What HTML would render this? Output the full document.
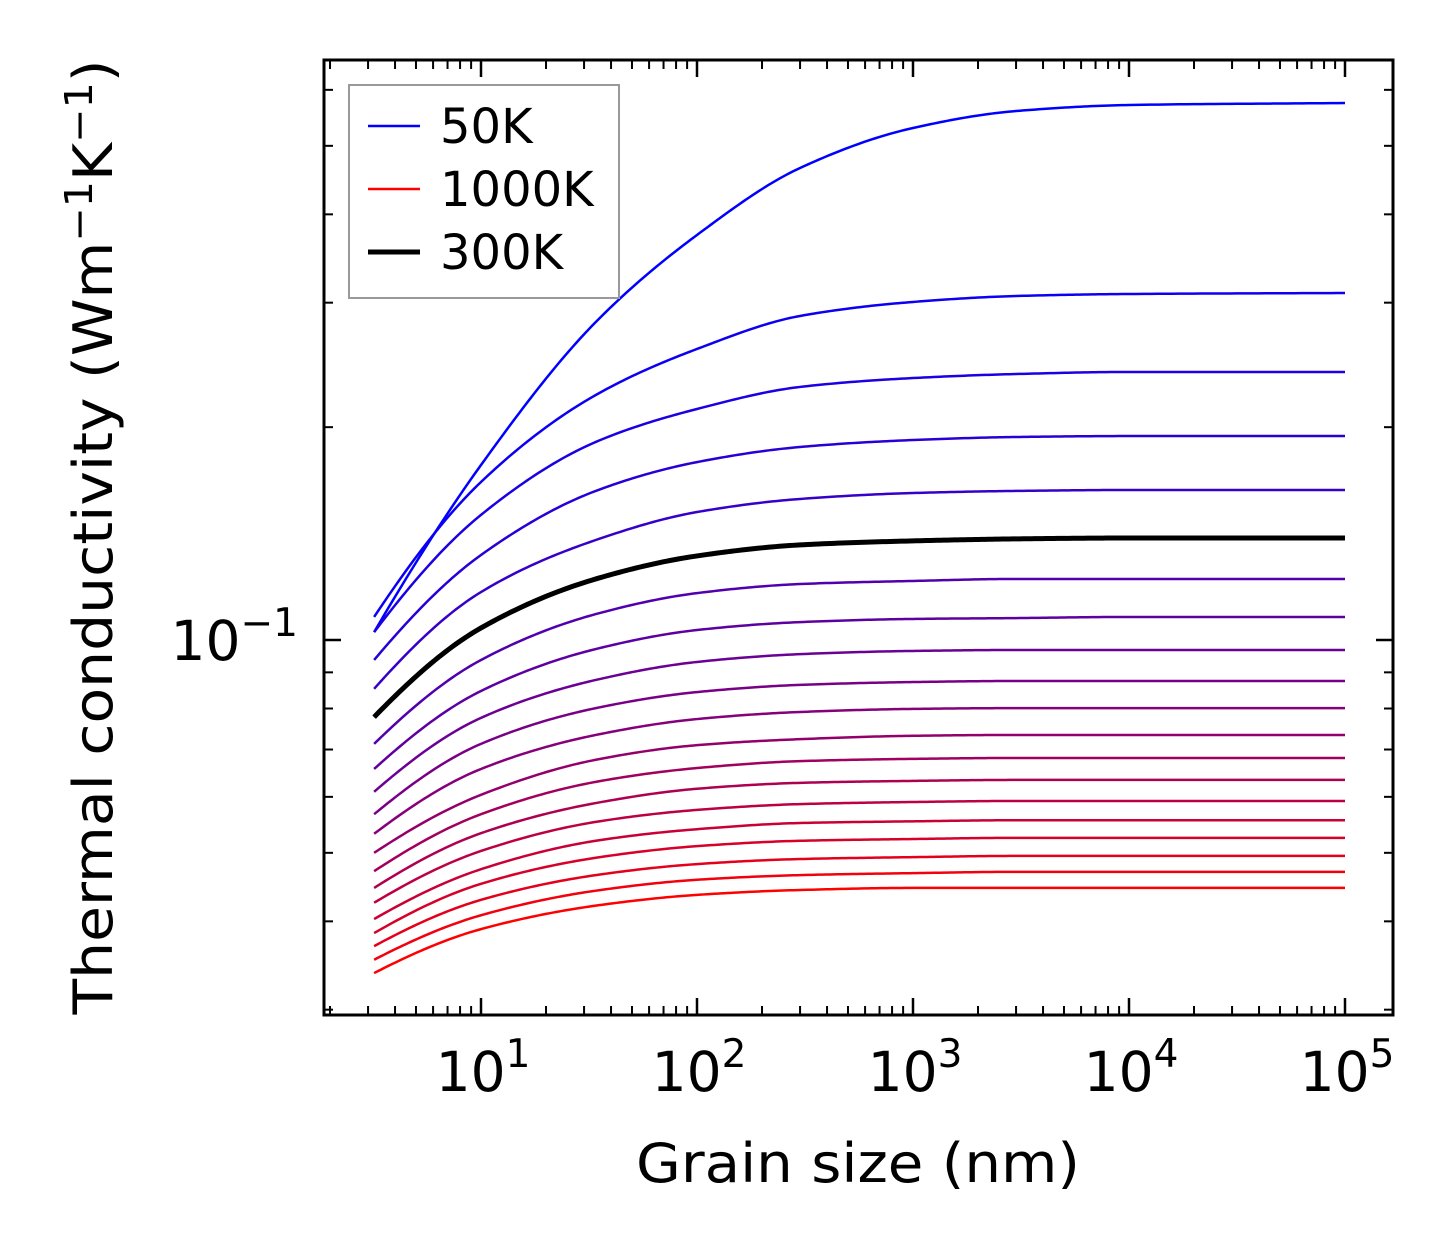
<!DOCTYPE html>
<html><head><meta charset="utf-8"><style>
html,body{margin:0;padding:0;background:#fff;}
svg{display:block;font-family:"DejaVu Sans","Liberation Sans",sans-serif;}
</style></head><body>
<svg id="chart" width="1454" height="1254" viewBox="0 0 1454 1254" xmlns="http://www.w3.org/2000/svg">
<rect width="1454" height="1254" fill="#fff"/>
<g id="curves"></g>
<g id="axes"></g>
<g id="legend">
  <rect x="349" y="85" width="270" height="213" fill="#fff" fill-opacity="0.8" stroke="#999" stroke-width="2"/>
  <line x1="368" y1="126" x2="420" y2="126" stroke="#0000ff" stroke-width="2.5"/>
  <text x="440" y="143" font-size="48">50K</text>
  <line x1="368" y1="189" x2="420" y2="189" stroke="#ff0000" stroke-width="2.5"/>
  <text x="440" y="206" font-size="48">1000K</text>
  <line x1="368" y1="252" x2="420" y2="252" stroke="#000" stroke-width="5"/>
  <text x="440" y="269" font-size="48">300K</text>
</g>
<text x="858" y="1182" font-size="54" text-anchor="middle" textLength="444" lengthAdjust="spacingAndGlyphs">Grain size (nm)</text>
<text transform="translate(112,537) rotate(-90)" font-size="54" text-anchor="middle" textLength="955" lengthAdjust="spacingAndGlyphs">Thermal conductivity (Wm<tspan dy="-20" font-size="38">−1</tspan><tspan dy="20">K</tspan><tspan dy="-20" font-size="38">−1</tspan><tspan dy="20">)</tspan></text>
</svg>
<script>
const grainSizes = [3.2, 10, 34, 100, 300, 1000, 3000, 10000, 100000];
const temperatures = [50,100,150,200,250,300,350,400,450,500,550,600,650,700,750,800,850,900,950,1000];
const k50  = [0.1026,0.1768,0.2817,0.3740,0.4652,0.5299,0.5600,0.5711,0.5748];
const k100 = [0.1078,0.1673,0.2221,0.2580,0.2873,0.3007,0.3066,0.3086,0.3096];
const k150 = [0.1026,0.1503,0.1906,0.2122,0.2280,0.2347,0.2378,0.2394,0.2394];
const k200 = [0.0937,0.1319,0.1625,0.1785,0.1875,0.1918,0.1937,0.1943,0.1943];
const k250 = [0.0853,0.1169,0.1385,0.1517,0.1583,0.1614,0.1625,0.1630,0.1630];
const k300 = [0.0778,0.1040,0.1220,0.1315,0.1363,0.1381,0.1390,0.1394,0.1394];
const k350 = [0.0713,0.0937,0.1088,0.1165,0.1200,0.1212,0.1220,0.1220,0.1220];
const k400 = [0.0657,0.0847,0.0971,0.1033,0.1060,0.1071,0.1074,0.1078,0.1078];
const k450 = [0.0610,0.0776,0.0878,0.0931,0.0955,0.0965,0.0968,0.0968,0.0968];
const k500 = [0.0567,0.0713,0.0801,0.0844,0.0864,0.0872,0.0875,0.0875,0.0875];
const k550 = [0.0532,0.0657,0.0734,0.0773,0.0791,0.0799,0.0801,0.0801,0.0801];
const k600 = [0.0500,0.0604,0.0677,0.0710,0.0724,0.0732,0.0734,0.0734,0.0734];
const k650 = [0.0471,0.0567,0.0630,0.0659,0.0674,0.0679,0.0681,0.0681,0.0681];
const k700 = [0.0446,0.0533,0.0588,0.0616,0.0628,0.0632,0.0634,0.0634,0.0634];
const k750 = [0.0425,0.0503,0.0553,0.0575,0.0586,0.0590,0.0592,0.0592,0.0592];
const k800 = [0.0403,0.0474,0.0520,0.0540,0.0551,0.0554,0.0556,0.0556,0.0556];
const k850 = [0.0385,0.0452,0.0492,0.0511,0.0520,0.0523,0.0525,0.0525,0.0525];
const k900 = [0.0369,0.0429,0.0465,0.0482,0.0490,0.0493,0.0495,0.0495,0.0495];
const k950 = [0.0353,0.0408,0.0442,0.0458,0.0465,0.0468,0.0470,0.0470,0.0470];
const k1000= [0.0338,0.0390,0.0421,0.0436,0.0443,0.0446,0.0446,0.0446,0.0446];
const seriesK = [k50,k100,k150,k200,k250,k300,k350,k400,k450,k500,k550,k600,k650,k700,k750,k800,k850,k900,k950,k1000];
const highlightT = 300;
const xMajorTicks = [1,2,3,4,5];
const yMajorTicks = [-1];
const yMinorValues = [0.03,0.04,0.05,0.06,0.07,0.08,0.09,0.2,0.3,0.4,0.5,0.6];

const NS = "http://www.w3.org/2000/svg";
const PL = 324, PR = 1393, PT = 60, PB = 1015;
const xDec = 216, x10 = 481;
const yDec = 707, y01 = 640;
function xs(v){ return x10 + (Math.log10(v) - 1) * xDec; }
function ys(v){ return y01 - (Math.log10(v) + 1) * yDec; }

function mk(tag, attrs, parent){
  const e = document.createElementNS(NS, tag);
  for (const k in attrs) e.setAttribute(k, attrs[k]);
  parent.appendChild(e);
  return e;
}
function smoothPath(pts){
  const n = pts.length, h = [], d = [], m = new Array(n);
  for (let i = 0; i < n - 1; i++){ h.push(pts[i+1][0]-pts[i][0]); d.push((pts[i+1][1]-pts[i][1])/h[i]); }
  m[n-1] = d[n-2];
  for (let i = 1; i < n - 1; i++){
    if (d[i-1]*d[i] <= 0) m[i] = 0;
    else { const w1 = 2*h[i]+h[i-1], w2 = h[i]+2*h[i-1]; m[i] = (w1+w2)/(w1/d[i-1]+w2/d[i]); }
  }
  m[0] = ((2*h[0]+h[1])*d[0] - h[0]*d[1])/(h[0]+h[1]);
  if (m[0]*d[0] <= 0) m[0] = 0; else if (Math.abs(m[0]) > 3*Math.abs(d[0])) m[0] = 3*d[0];
  let s = "M" + pts[0][0].toFixed(2) + "," + pts[0][1].toFixed(2);
  for (let i = 0; i < n - 1; i++){
    const steps = 30;
    for (let k = 1; k <= steps; k++){
      const t = k/steps, t2 = t*t, t3 = t2*t;
      const y = (2*t3-3*t2+1)*pts[i][1] + (t3-2*t2+t)*h[i]*m[i] + (-2*t3+3*t2)*pts[i+1][1] + (t3-t2)*h[i]*m[i+1];
      const x = pts[i][0] + t*h[i];
      s += " L" + x.toFixed(2) + "," + y.toFixed(2);
    }
  }
  return s;
}

const curves = document.getElementById("curves");
const n = temperatures.length;
let hiIdx = -1;
temperatures.forEach((T, i) => {
  const t = i / (n - 1);
  const col = "rgb(" + Math.round(255*t) + ",0," + Math.round(255*(1-t)) + ")";
  const pts = grainSizes.map((L, j) => [xs(L), ys(seriesK[i][j])]);
  const p = mk("path", {d: smoothPath(pts), fill: "none", stroke: col, "stroke-width": 2.5, "stroke-linejoin": "round"}, curves);
  
  
  if (T === highlightT) hiIdx = i;
});
if (hiIdx >= 0){
  const pts = grainSizes.map((L, j) => [xs(L), ys(seriesK[hiIdx][j])]);
  const p = mk("path", {d: smoothPath(pts), fill: "none", stroke: "#000", "stroke-width": 5, "stroke-linejoin": "round"}, curves);
  
  
}

const axes = document.getElementById("axes");
const frame = mk("rect", {x: PL, y: PT, width: PR-PL, height: PB-PT, fill: "none", stroke: "#000", "stroke-width": 3}, axes);



for (let dec = 0; dec <= 5; dec++){
  for (let m = 1; m <= 9; m++){
    const v = m * Math.pow(10, dec);
    const x = xs(v);
    if (x < PL + 2 || x > PR - 2) continue;
    const len = m === 1 ? 17 : 9;
    const w = m === 1 ? 2.5 : 2;
    const t1 = mk("line", {x1: x, y1: PB, x2: x, y2: PB - len, stroke: "#000", "stroke-width": w}, axes);
    
    
    const t2 = mk("line", {x1: x, y1: PT, x2: x, y2: PT + len, stroke: "#000", "stroke-width": w}, axes);
    
    
  }
}
xMajorTicks.forEach(e => {
  const x = xs(Math.pow(10, e));
  const tx = mk("text", {x: x + 2, y: 1091, "font-size": 55, "text-anchor": "middle"}, axes);
  
  
  tx.appendChild(document.createTextNode("10"));
  const sp = document.createElementNS(NS, "tspan");
  sp.setAttribute("dy", "-24"); sp.setAttribute("font-size", "39");
  sp.textContent = String(e);
  tx.appendChild(sp);
});
yMajorTicks.forEach(e => {
  const y = ys(Math.pow(10, e));
  [[PL, PL + 17], [PR, PR - 17]].forEach(([a, b]) => {
    const l = mk("line", {x1: a, y1: y, x2: b, y2: y, stroke: "#000", "stroke-width": 2.5}, axes);
    
    
  });
  const tx = mk("text", {x: 298, y: y + 20, "font-size": 55, "text-anchor": "end"}, axes);
  
  
  tx.appendChild(document.createTextNode("10"));
  const sp = document.createElementNS(NS, "tspan");
  sp.setAttribute("dy", "-24"); sp.setAttribute("font-size", "39");
  sp.textContent = "−" + String(-e);
  tx.appendChild(sp);
});
yMinorValues.forEach(v => {
  const y = ys(v);
  [[PL, PL + 9], [PR, PR - 9]].forEach(([a, b]) => {
    const l = mk("line", {x1: a, y1: y, x2: b, y2: y, stroke: "#000", "stroke-width": 2}, axes);
    
    
  });
});
</script>
</body></html>
